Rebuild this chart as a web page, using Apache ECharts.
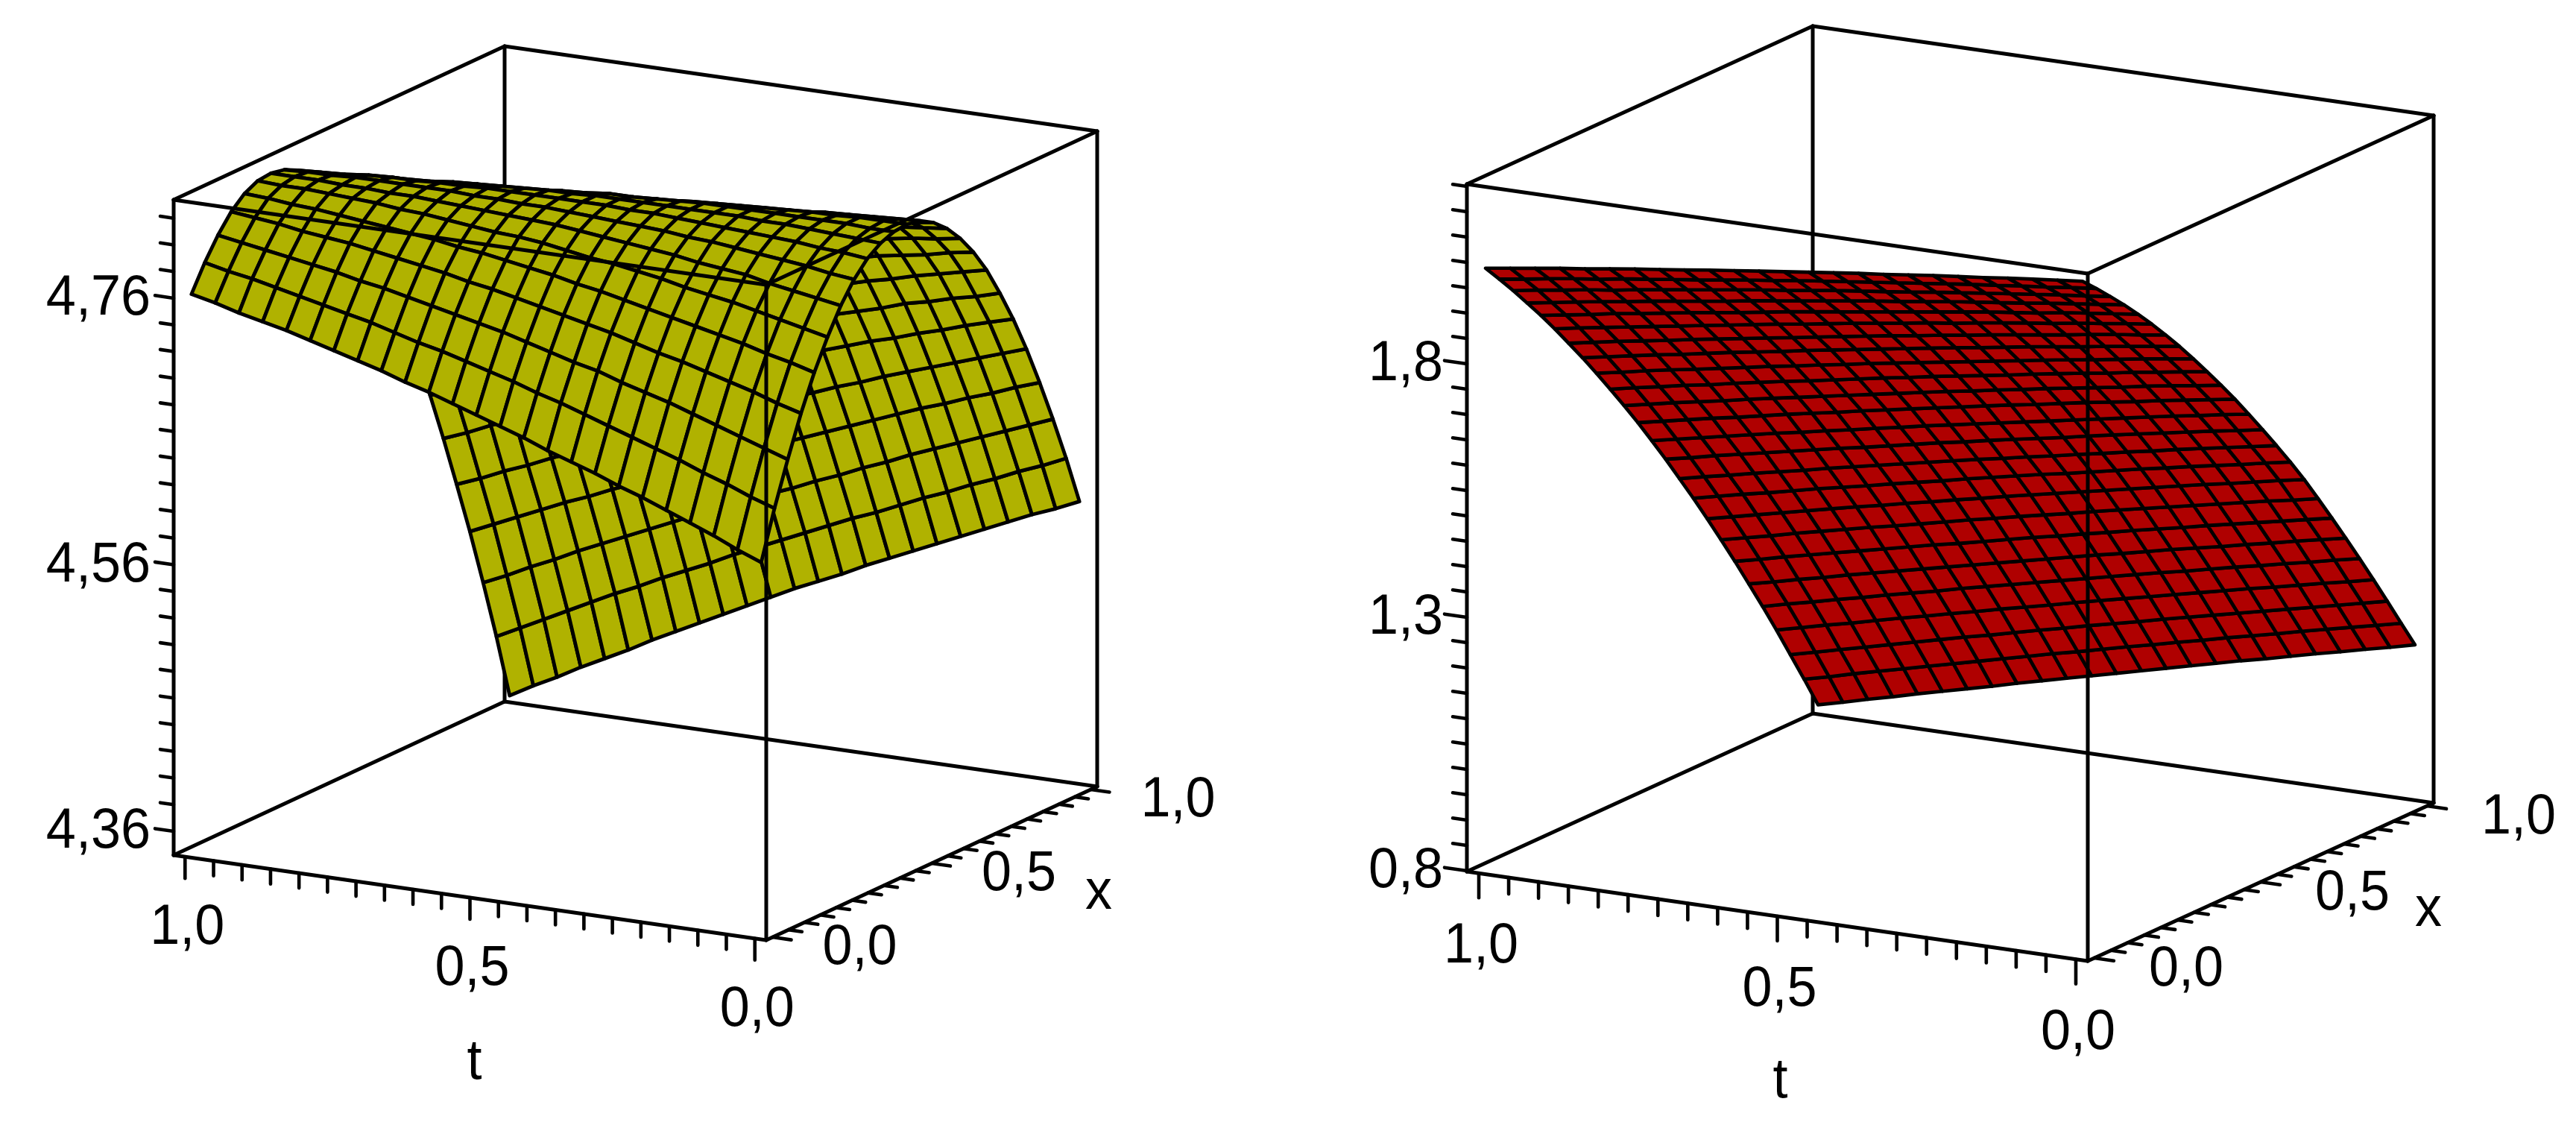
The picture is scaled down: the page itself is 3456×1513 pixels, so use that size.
<!DOCTYPE html>
<html>
<head>
<meta charset="utf-8">
<style>html,body{margin:0;padding:0;background:#fff}#chart{width:3456px;height:1513px}</style>
<script src="https://cdn.jsdelivr.net/npm/echarts@6/dist/echarts.min.js"></script>
</head>
<body>
<div id="chart"></div>
<script>
'use strict';
// mesh nodes, the same for both plots
var tNodes = [1,.9583,.9167,.875,.8333,.7917,.75,.7083,.6667,.625,.5833,.5417,.5,.4583,.4167,.375,.3333,.2917,.25,.2083,.1667,.125,.0833,.0417,0];
var xNodes = [0,.0417,.0833,.125,.1667,.2083,.25,.2917,.3333,.375,.4167,.4583,.5,.5417,.5833,.625,.6667,.7083,.75,.7917,.8333,.875,.9167,.9583,1];

// tick values and labels
var tTicks = [0,.05,.1,.15,.2,.25,.3,.35,.4,.45,.5,.55,.6,.65,.7,.75,.8,.85,.9,.95,1];
var xTicks = [0,.05,.1,.15,.2,.25,.3,.35,.4,.45,.5,.55,.6,.65,.7,.75,.8,.85,.9,.95,1];
var axisValues = [0,.5,1];
var axisLabels = ['0,0','0,5','1,0'];
var zTicksLeft = [4.36,4.38,4.4,4.42,4.44,4.46,4.48,4.5,4.52,4.54,4.56,4.58,4.6,4.62,4.64,4.66,4.68,4.7,4.72,4.74,4.76,4.78,4.8,4.82];
var zValuesLeft = [4.36,4.56,4.76];
var zLabelsLeft = ['4,36','4,56','4,76'];
var zTicksRight = [.8,.85,.9,.95,1,1.05,1.1,1.15,1.2,1.25,1.3,1.35,1.4,1.45,1.5,1.55,1.6,1.65,1.7,1.75,1.8,1.85,1.9,1.95,2,2.05,2.1,2.15];
var zValuesRight = [.8,1.3,1.8];
var zLabelsRight = ['0,8','1,3','1,8'];

// surface heights: one list per x node, t going from 1 to 0
var surfaceLeft = [
[4.762,4.758,4.753,4.749,4.745,4.740,4.735,4.730,4.725,4.719,4.714,4.708,4.702,4.696,4.690,4.683,4.677,4.671,4.664,4.658,4.651,4.644,4.637,4.629,4.622],
[4.781,4.777,4.774,4.770,4.766,4.762,4.758,4.754,4.749,4.744,4.740,4.735,4.730,4.725,4.719,4.714,4.708,4.702,4.696,4.690,4.684,4.677,4.671,4.664,4.658],
[4.797,4.794,4.791,4.788,4.785,4.782,4.778,4.775,4.771,4.767,4.763,4.759,4.755,4.750,4.745,4.740,4.736,4.730,4.725,4.720,4.714,4.708,4.702,4.696,4.690],
[4.810,4.808,4.806,4.803,4.801,4.799,4.796,4.793,4.790,4.787,4.783,4.780,4.776,4.772,4.768,4.764,4.760,4.755,4.750,4.746,4.741,4.736,4.731,4.725,4.720],
[4.819,4.818,4.816,4.815,4.813,4.811,4.809,4.807,4.805,4.802,4.800,4.797,4.794,4.791,4.787,4.784,4.780,4.776,4.772,4.768,4.764,4.760,4.755,4.751,4.746],
[4.824,4.823,4.823,4.822,4.821,4.820,4.818,4.817,4.815,4.813,4.811,4.810,4.808,4.805,4.802,4.800,4.797,4.794,4.790,4.787,4.784,4.780,4.776,4.772,4.768],
[4.825,4.825,4.825,4.824,4.824,4.823,4.823,4.822,4.821,4.820,4.819,4.818,4.817,4.815,4.813,4.811,4.809,4.807,4.804,4.802,4.800,4.796,4.793,4.790,4.787],
[4.823,4.824,4.824,4.825,4.825,4.825,4.825,4.825,4.824,4.824,4.823,4.823,4.822,4.821,4.820,4.819,4.818,4.816,4.815,4.813,4.811,4.809,4.807,4.804,4.802],
[4.818,4.819,4.820,4.822,4.823,4.823,4.824,4.824,4.825,4.825,4.825,4.825,4.825,4.825,4.824,4.824,4.823,4.822,4.821,4.820,4.819,4.818,4.816,4.815,4.813],
[4.810,4.812,4.814,4.815,4.817,4.818,4.820,4.821,4.822,4.823,4.824,4.824,4.825,4.825,4.825,4.825,4.825,4.825,4.825,4.824,4.824,4.823,4.822,4.821,4.820],
[4.799,4.801,4.804,4.806,4.809,4.810,4.812,4.814,4.816,4.817,4.819,4.820,4.822,4.822,4.823,4.824,4.825,4.825,4.825,4.825,4.825,4.825,4.825,4.824,4.824],
[4.785,4.788,4.791,4.794,4.797,4.799,4.802,4.804,4.807,4.809,4.811,4.813,4.815,4.816,4.817,4.819,4.820,4.821,4.822,4.823,4.824,4.824,4.825,4.825,4.825],
[4.768,4.772,4.775,4.779,4.782,4.785,4.788,4.791,4.794,4.797,4.799,4.802,4.805,4.807,4.809,4.811,4.813,4.814,4.816,4.817,4.819,4.820,4.821,4.822,4.823],
[4.748,4.752,4.757,4.761,4.765,4.769,4.772,4.776,4.780,4.783,4.786,4.789,4.792,4.795,4.797,4.800,4.802,4.804,4.807,4.809,4.811,4.812,4.814,4.815,4.817],
[4.725,4.730,4.734,4.739,4.744,4.748,4.752,4.757,4.761,4.765,4.769,4.772,4.776,4.779,4.782,4.786,4.789,4.792,4.794,4.797,4.799,4.801,4.804,4.806,4.808],
[4.699,4.704,4.710,4.715,4.720,4.725,4.730,4.734,4.739,4.743,4.748,4.752,4.757,4.760,4.764,4.768,4.772,4.775,4.779,4.782,4.785,4.788,4.791,4.793,4.796],
[4.670,4.676,4.682,4.688,4.693,4.699,4.704,4.709,4.715,4.720,4.724,4.729,4.734,4.738,4.743,4.747,4.752,4.756,4.760,4.764,4.768,4.771,4.774,4.778,4.781],
[4.638,4.644,4.651,4.657,4.663,4.669,4.675,4.681,4.687,4.692,4.698,4.703,4.709,4.713,4.718,4.723,4.728,4.733,4.737,4.742,4.746,4.751,4.755,4.759,4.763],
[4.603,4.610,4.616,4.623,4.630,4.636,4.643,4.649,4.655,4.661,4.667,4.673,4.680,4.685,4.691,4.696,4.702,4.707,4.712,4.717,4.723,4.727,4.732,4.736,4.741],
[4.566,4.573,4.581,4.588,4.595,4.602,4.609,4.616,4.623,4.629,4.636,4.642,4.649,4.655,4.661,4.667,4.673,4.679,4.685,4.690,4.696,4.701,4.707,4.712,4.717],
[4.527,4.534,4.542,4.549,4.557,4.564,4.572,4.579,4.586,4.593,4.600,4.607,4.615,4.621,4.628,4.634,4.641,4.647,4.654,4.660,4.666,4.672,4.678,4.684,4.690],
[4.487,4.495,4.503,4.511,4.519,4.526,4.534,4.541,4.549,4.556,4.564,4.571,4.579,4.586,4.593,4.600,4.607,4.614,4.621,4.628,4.634,4.641,4.647,4.654,4.660],
[4.444,4.452,4.461,4.469,4.478,4.486,4.494,4.502,4.510,4.518,4.525,4.533,4.541,4.548,4.556,4.563,4.571,4.578,4.586,4.593,4.600,4.607,4.614,4.621,4.628],
[4.399,4.408,4.417,4.426,4.435,4.444,4.452,4.461,4.469,4.477,4.486,4.494,4.502,4.510,4.518,4.526,4.533,4.541,4.549,4.556,4.564,4.571,4.579,4.586,4.594],
[4.350,4.360,4.369,4.379,4.388,4.397,4.407,4.416,4.425,4.434,4.443,4.452,4.461,4.469,4.477,4.486,4.494,4.502,4.510,4.518,4.526,4.534,4.542,4.549,4.557]
];
var surfaceRight = [
[1.986,1.993,2.000,2.007,2.013,2.020,2.027,2.033,2.039,2.046,2.052,2.058,2.064,2.070,2.076,2.082,2.087,2.093,2.099,2.104,2.109,2.115,2.120,2.125,2.130],
[1.952,1.959,1.967,1.974,1.980,1.988,1.994,2.001,2.007,2.014,2.021,2.027,2.034,2.040,2.046,2.052,2.058,2.064,2.070,2.076,2.081,2.087,2.092,2.098,2.103],
[1.917,1.925,1.932,1.940,1.946,1.954,1.961,1.968,1.975,1.982,1.989,1.995,2.002,2.009,2.015,2.021,2.027,2.034,2.040,2.046,2.052,2.058,2.064,2.069,2.075],
[1.880,1.888,1.896,1.904,1.911,1.919,1.926,1.933,1.940,1.948,1.955,1.962,1.969,1.976,1.983,1.989,1.996,2.003,2.009,2.015,2.021,2.028,2.034,2.040,2.046],
[1.843,1.851,1.859,1.868,1.875,1.883,1.891,1.898,1.905,1.913,1.921,1.928,1.935,1.942,1.949,1.956,1.963,1.970,1.977,1.983,1.989,1.997,2.003,2.009,2.015],
[1.804,1.813,1.821,1.829,1.837,1.845,1.853,1.861,1.869,1.877,1.884,1.892,1.900,1.907,1.914,1.922,1.928,1.936,1.943,1.950,1.956,1.964,1.970,1.977,1.983],
[1.763,1.772,1.781,1.789,1.797,1.806,1.814,1.822,1.830,1.838,1.846,1.854,1.862,1.870,1.877,1.885,1.892,1.900,1.907,1.914,1.921,1.929,1.936,1.942,1.949],
[1.722,1.731,1.740,1.749,1.757,1.766,1.775,1.783,1.791,1.800,1.808,1.816,1.824,1.832,1.840,1.848,1.855,1.863,1.871,1.878,1.885,1.893,1.900,1.907,1.914],
[1.679,1.688,1.698,1.707,1.715,1.724,1.733,1.742,1.750,1.759,1.767,1.776,1.784,1.792,1.800,1.808,1.816,1.824,1.832,1.840,1.847,1.855,1.863,1.870,1.877],
[1.635,1.645,1.654,1.664,1.672,1.682,1.691,1.700,1.708,1.717,1.726,1.735,1.743,1.752,1.760,1.768,1.776,1.785,1.793,1.801,1.808,1.817,1.824,1.832,1.839],
[1.590,1.600,1.610,1.619,1.628,1.638,1.647,1.656,1.665,1.674,1.683,1.692,1.701,1.710,1.718,1.727,1.735,1.744,1.752,1.760,1.768,1.777,1.785,1.792,1.800],
[1.544,1.554,1.564,1.574,1.583,1.593,1.603,1.612,1.621,1.631,1.640,1.649,1.658,1.667,1.676,1.685,1.693,1.702,1.711,1.719,1.727,1.736,1.744,1.752,1.760],
[1.496,1.506,1.516,1.526,1.536,1.546,1.555,1.565,1.574,1.584,1.593,1.603,1.612,1.621,1.630,1.639,1.648,1.657,1.666,1.675,1.684,1.693,1.701,1.710,1.718],
[1.447,1.457,1.468,1.478,1.488,1.498,1.508,1.518,1.527,1.537,1.547,1.557,1.566,1.576,1.585,1.594,1.603,1.613,1.622,1.631,1.640,1.649,1.658,1.666,1.675],
[1.396,1.407,1.417,1.428,1.438,1.448,1.459,1.469,1.479,1.489,1.499,1.509,1.519,1.528,1.538,1.547,1.557,1.566,1.576,1.585,1.595,1.604,1.613,1.622,1.631],
[1.345,1.356,1.367,1.377,1.388,1.399,1.409,1.419,1.430,1.440,1.450,1.461,1.471,1.481,1.491,1.500,1.510,1.520,1.530,1.539,1.549,1.558,1.567,1.577,1.586],
[1.292,1.303,1.314,1.325,1.336,1.347,1.358,1.368,1.379,1.389,1.400,1.410,1.421,1.431,1.441,1.451,1.461,1.471,1.481,1.491,1.501,1.510,1.520,1.530,1.539],
[1.238,1.249,1.260,1.272,1.283,1.294,1.305,1.315,1.326,1.337,1.348,1.358,1.369,1.379,1.389,1.400,1.410,1.420,1.430,1.440,1.450,1.460,1.470,1.479,1.489],
[1.183,1.194,1.206,1.217,1.228,1.239,1.250,1.261,1.272,1.282,1.293,1.304,1.315,1.325,1.336,1.346,1.357,1.367,1.377,1.388,1.398,1.408,1.418,1.428,1.438],
[1.126,1.137,1.149,1.160,1.172,1.183,1.194,1.205,1.216,1.227,1.238,1.249,1.260,1.271,1.282,1.292,1.303,1.314,1.324,1.334,1.345,1.355,1.366,1.376,1.386],
[1.069,1.081,1.092,1.104,1.115,1.127,1.138,1.149,1.161,1.172,1.183,1.194,1.205,1.216,1.227,1.238,1.249,1.259,1.270,1.281,1.291,1.302,1.312,1.323,1.333],
[1.010,1.022,1.034,1.045,1.057,1.069,1.080,1.092,1.103,1.115,1.126,1.137,1.149,1.160,1.171,1.182,1.193,1.204,1.215,1.226,1.236,1.247,1.258,1.268,1.279],
[.949,.961,.973,.985,.997,1.009,1.021,1.033,1.044,1.056,1.068,1.079,1.091,1.102,1.113,1.125,1.136,1.147,1.158,1.169,1.180,1.191,1.202,1.213,1.224],
[.888,.900,.913,.925,.937,.949,.961,.973,.985,.997,1.009,1.020,1.032,1.044,1.055,1.067,1.078,1.090,1.101,1.112,1.124,1.135,1.146,1.157,1.168],
[.825,.837,.850,.862,.875,.887,.899,.911,.924,.936,.948,.960,.972,.984,.996,1.008,1.020,1.032,1.043,1.055,1.067,1.078,1.090,1.101,1.113]
];

// t and x axes both run a little past the data
var AXIS_MIN = -.02, AXIS_SPAN = 1.04;
var FONT = '"Liberation Sans", Arial, sans-serif';

// the view is parallel: one corner plus three edge vectors place the whole box
var panels = [
  {origin:[233,1147], u:[795,114], v:[444,-206], height:879, zRange:[4.3421,4.8338], fill:'#b0b200', meshWidth:4.8,
   z:surfaceLeft, zTicks:zTicksLeft, zValues:zValuesLeft, zLabels:zLabelsLeft,
   lens:{zMin:18,zMaj:25,tMin:20,tMaj:29,xMin:18,xMaj:25},
   off:{z:[-31,1],t:[3,96],x:[117,15],tName:[6,222],xName:[224,40]}},
  {origin:[1968,1169], u:[833,120], v:[464,-212], height:922, zRange:[.7985,2.1544], fill:'#af0000', meshWidth:4.6,
   z:surfaceRight, zTicks:zTicksRight, zValues:zValuesRight, zLabels:zLabelsRight,
   lens:{zMin:19,zMaj:30,tMin:22,tMaj:33,xMin:19,xMaj:26},
   off:{z:[-32,1],t:[3,99],x:[123,16],tName:[4,222],xName:[225,38]}}
];

// box edges as [s,r,h, s,r,h] in unit box coordinates
var backEdges = [[0,1,1,1,1,1],[0,1,1,0,0,1],[0,1,1,0,1,0],[1,1,1,1,1,0],[0,1,0,0,0,0],[0,1,0,1,1,0]];
var frontEdges = [[0,0,1,1,0,1],[1,0,1,1,0,0],[1,1,1,1,0,1],[0,0,1,0,0,0],[0,0,0,1,0,0],[1,0,0,1,1,0]];

function boxPoint(p, s, r, h) {
    return [p.origin[0] + s * p.u[0] + r * p.v[0], p.origin[1] + s * p.u[1] + r * p.v[1] - h * p.height];
}
function sOf(t) { return (1 - AXIS_MIN - t) / AXIS_SPAN; }
function rOf(x) { return (x - AXIS_MIN) / AXIS_SPAN; }
function hOf(p, z) { return (z - p.zRange[0]) / (p.zRange[1] - p.zRange[0]); }
function project(p, t, x, z) { return boxPoint(p, sOf(t), rOf(x), hOf(p, z)); }

function edgeSeries(p, edges) {
    return {
        type:'custom', coordinateSystem:'cartesian2d', silent:true, clip:false, animation:false, progressive:0,
        data:edges,
        renderItem:function (params, api) {
            var a = api.coord(boxPoint(p, api.value(0), api.value(1), api.value(2)));
            var b = api.coord(boxPoint(p, api.value(3), api.value(4), api.value(5)));
            return {type:'line', shape:{x1:a[0],y1:a[1],x2:b[0],y2:b[1]},
                style:{stroke:'#000',lineWidth:5,lineCap:'round'}};
        }
    };
}

function surfaceSeries(p) {
    // far x first, so the near flank paints over the far one
    var cells = [];
    for (var j = xNodes.length - 2; j >= 0; j--) {
        for (var k = 0; k < tNodes.length - 1; k++) {
            cells.push([k, j]);
        }
    }
    return {
        type:'custom', coordinateSystem:'cartesian2d', silent:true, clip:false, animation:false, progressive:0,
        data:cells,
        renderItem:function (params, api) {
            var k = api.value(0), j = api.value(1);
            var corners = [[k,j],[k+1,j],[k+1,j+1],[k,j+1]].map(function (n) {
                return api.coord(project(p, tNodes[n[0]], xNodes[n[1]], p.z[n[1]][n[0]]));
            });
            return {type:'polygon', shape:{points:corners},
                style:{fill:p.fill,stroke:'#000',lineWidth:p.meshWidth,lineJoin:'round'}};
        }
    };
}

function tickSeries(p) {
    var items = [];
    p.zTicks.forEach(function (z) {
        var len = p.zValues.indexOf(z) >= 0 ? p.lens.zMaj : p.lens.zMin;
        items.push([boxPoint(p, 0, 0, hOf(p, z)), boxPoint(p, -len / p.u[0], 0, hOf(p, z))]);
    });
    tTicks.forEach(function (t) {
        var len = axisValues.indexOf(t) >= 0 ? p.lens.tMaj : p.lens.tMin;
        items.push([boxPoint(p, sOf(t), 0, 0), boxPoint(p, sOf(t), 0, -len / p.height)]);
    });
    xTicks.forEach(function (x) {
        var len = axisValues.indexOf(x) >= 0 ? p.lens.xMaj : p.lens.xMin;
        items.push([boxPoint(p, 1, rOf(x), 0), boxPoint(p, 1 + len / p.u[0], rOf(x), 0)]);
    });
    return {
        type:'custom', coordinateSystem:'cartesian2d', silent:true, clip:false, animation:false, progressive:0,
        data:items.map(function (it, i) { return [i]; }),
        renderItem:function (params, api) {
            var it = items[api.value(0)];
            var a = api.coord(it[0]), b = api.coord(it[1]);
            return {type:'line', shape:{x1:a[0],y1:a[1],x2:b[0],y2:b[1]},
                style:{stroke:'#000',lineWidth:4.6,lineCap:'round'}};
        }
    };
}

function labelSeries(p) {
    var items = [];
    p.zValues.forEach(function (z, i) {
        var q = boxPoint(p, 0, 0, hOf(p, z));
        items.push({text:p.zLabels[i], x:q[0] + p.off.z[0], y:q[1] + p.off.z[1], align:'right'});
    });
    axisValues.forEach(function (v, i) {
        var q = boxPoint(p, sOf(v), 0, 0);
        items.push({text:axisLabels[i], x:q[0] + p.off.t[0], y:q[1] + p.off.t[1], align:'center'});
        q = boxPoint(p, 1, rOf(v), 0);
        items.push({text:axisLabels[i], x:q[0] + p.off.x[0], y:q[1] + p.off.x[1], align:'center'});
    });
    var tMid = boxPoint(p, sOf(.5), 0, 0), xMid = boxPoint(p, 1, rOf(.5), 0);
    items.push({text:'t', x:tMid[0] + p.off.tName[0], y:tMid[1] + p.off.tName[1], align:'center'});
    items.push({text:'x', x:xMid[0] + p.off.xName[0], y:xMid[1] + p.off.xName[1], align:'center'});
    return {
        type:'custom', coordinateSystem:'cartesian2d', silent:true, clip:false, animation:false, progressive:0,
        data:items.map(function (it, i) { return [i]; }),
        renderItem:function (params, api) {
            var it = items[api.value(0)];
            var c = api.coord([it.x, it.y]);
            // the reference digits are a touch taller than the font's
            return {type:'text', x:c[0], y:c[1], scaleY:1.06,
                style:{text:it.text, fill:'#000', font:'72px ' + FONT, textAlign:it.align, textVerticalAlign:'middle'}};
        }
    };
}

var series = [];
panels.forEach(function (p) {
    series.push(edgeSeries(p, backEdges), surfaceSeries(p), edgeSeries(p, frontEdges), tickSeries(p), labelSeries(p));
});

var myChart = echarts.init(document.getElementById('chart'), null, {renderer:'canvas'});
myChart.setOption({
    backgroundColor:'#fff',
    animation:false,
    grid:{left:0, right:0, top:0, bottom:0},
    // plain page-sized plane the boxes are projected onto
    xAxis:{type:'value', min:0, max:3456, show:false},
    yAxis:{type:'value', min:0, max:1513, inverse:true, show:false},
    series:series
});
</script>
</body>
</html>
